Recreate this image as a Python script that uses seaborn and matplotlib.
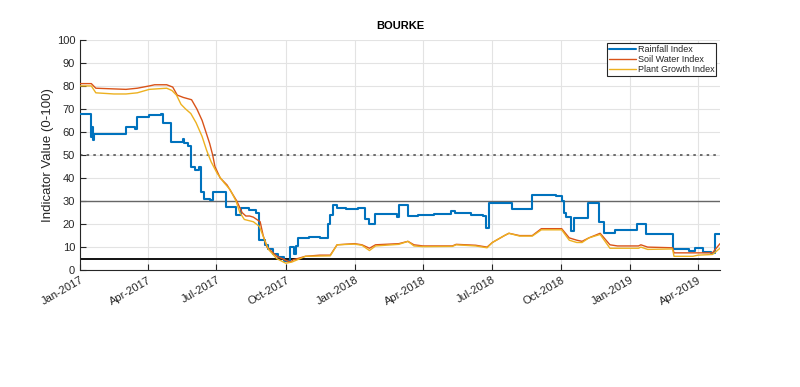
import pandas as pd
import matplotlib
matplotlib.use('Agg')
import matplotlib.pyplot as plt
import matplotlib.dates as mdates
import seaborn as sns

# Rainfall index (step changes)
rain_dates = ['2017-01-01', '2017-01-15', '2017-01-17', '2017-01-18', '2017-01-20', '2017-03-03',
              '2017-03-15', '2017-03-18', '2017-04-03', '2017-04-19', '2017-04-21', '2017-05-02',
              '2017-05-17', '2017-05-19', '2017-05-24', '2017-05-28', '2017-06-03', '2017-06-08',
              '2017-06-11', '2017-06-14', '2017-06-22', '2017-06-27', '2017-07-14', '2017-07-27',
              '2017-08-03', '2017-08-13', '2017-08-22', '2017-08-27', '2017-09-03', '2017-09-07',
              '2017-09-14', '2017-09-20', '2017-09-28', '2017-10-07', '2017-10-12', '2017-10-14',
              '2017-10-17', '2017-11-01', '2017-11-15', '2017-11-26', '2017-11-29', '2017-12-02',
              '2017-12-08', '2017-12-20', '2018-01-05', '2018-01-14', '2018-01-19', '2018-01-27',
              '2018-02-26', '2018-02-28', '2018-03-12', '2018-03-25', '2018-04-15', '2018-05-08',
              '2018-05-14', '2018-06-04', '2018-06-19', '2018-06-24', '2018-06-28', '2018-07-28',
              '2018-08-24', '2018-09-25', '2018-10-02', '2018-10-05', '2018-10-08', '2018-10-15',
              '2018-10-18', '2018-11-06', '2018-11-21', '2018-11-27', '2018-12-12', '2019-01-10',
              '2019-01-22', '2019-02-08', '2019-02-26', '2019-03-20', '2019-03-28', '2019-04-08',
              '2019-04-18', '2019-04-24', '2019-04-30']
rain_vals = [68, 58, 62, 56.5, 59, 62,
             61.5, 66.5, 67.5, 68, 64, 55.5,
             57, 55, 54, 45, 43.5, 45,
             34, 31, 30.5, 34, 27.5, 24,
             27, 26, 25, 13, 11, 9,
             7, 5.5, 4, 10, 7, 10.5,
             14, 14.5, 14, 20, 24, 28.5,
             27, 26.5, 27, 22, 20, 24.5,
             23, 28.5, 23.5, 24, 24.5, 25.5,
             25, 24, 23.5, 18.5, 29, 26.5,
             32.5, 32, 30, 25, 23, 17,
             22.5, 29, 21, 16, 17.5, 20,
             15.5, 15.5, 9, 8.5, 9.5, 8,
             7.5, 15.5, 15.5]

# Soil water index
soil_dates = ['2017-01-01', '2017-01-16', '2017-01-22', '2017-03-03', '2017-03-18', '2017-04-03',
              '2017-04-10', '2017-04-26', '2017-05-04', '2017-05-10', '2017-05-18', '2017-05-29',
              '2017-06-05', '2017-06-12', '2017-06-15', '2017-06-22', '2017-06-26', '2017-06-29',
              '2017-07-06', '2017-07-15', '2017-07-28', '2017-08-04', '2017-08-09', '2017-08-14',
              '2017-08-19', '2017-08-28', '2017-09-01', '2017-09-06', '2017-09-19', '2017-10-03',
              '2017-10-07', '2017-10-11', '2017-10-27', '2017-11-15', '2017-11-29', '2017-12-08',
              '2017-12-31', '2018-01-10', '2018-01-20', '2018-01-28', '2018-02-28', '2018-03-12',
              '2018-03-20', '2018-04-01', '2018-05-10', '2018-05-15', '2018-06-10', '2018-06-25',
              '2018-07-02', '2018-07-18', '2018-07-24', '2018-08-07', '2018-08-24', '2018-09-05',
              '2018-10-02', '2018-10-12', '2018-10-22', '2018-10-29', '2018-11-07', '2018-11-22',
              '2018-12-05', '2018-12-15', '2019-01-12', '2019-01-15', '2019-01-24', '2019-02-26',
              '2019-02-28', '2019-04-20', '2019-04-30']
soil_vals = [81, 81, 79, 78.5, 79, 80,
             80.5, 80.5, 79.5, 76, 75, 74,
             70, 65, 62, 55, 50, 45,
             40, 37, 30, 25, 23.5, 23.5,
             23, 21, 15, 10, 6, 4,
             3.5, 4.5, 6, 6.5, 6.5, 11,
             11.5, 11, 9.5, 11, 11.5, 12.5,
             11, 10.5, 10.5, 11.2, 10.8, 10,
             12, 15, 16, 15, 15, 18,
             18, 14, 13, 12.5, 14, 16,
             11, 10.5, 10.5, 11, 10, 9.7,
             7.5, 7.5, 11.5]

# Plant growth index
plant_dates = ['2017-01-01', '2017-01-16', '2017-01-22', '2017-02-15', '2017-03-03', '2017-03-18',
               '2017-04-03', '2017-04-26', '2017-05-03', '2017-05-09', '2017-05-15', '2017-05-21',
               '2017-05-28', '2017-06-04', '2017-06-12', '2017-06-18', '2017-06-24', '2017-07-02',
               '2017-07-11', '2017-07-19', '2017-07-27', '2017-08-01', '2017-08-07', '2017-08-19',
               '2017-08-27', '2017-09-03', '2017-09-08', '2017-09-19', '2017-10-01', '2017-10-09',
               '2017-10-20', '2017-10-27', '2017-11-29', '2017-12-08', '2017-12-31', '2018-01-10',
               '2018-01-20', '2018-01-28', '2018-02-28', '2018-03-12', '2018-03-20', '2018-04-01',
               '2018-05-10', '2018-05-15', '2018-06-10', '2018-06-25', '2018-07-02', '2018-07-18',
               '2018-07-24', '2018-08-07', '2018-08-24', '2018-09-05', '2018-10-02', '2018-10-12',
               '2018-10-22', '2018-10-29', '2018-11-07', '2018-11-22', '2018-12-05', '2019-01-12',
               '2019-01-15', '2019-01-24', '2019-02-26', '2019-02-28', '2019-03-25', '2019-04-01',
               '2019-04-20', '2019-04-30']
plant_vals = [80, 80, 77, 76.5, 76.5, 77,
              78.5, 79, 78, 76, 72, 70,
              68, 64, 58, 52, 47, 42,
              38, 35, 30, 25, 22, 21,
              19, 13, 9, 5, 3, 3.5,
              5, 6, 6.2, 11, 11.3, 10.8,
              8.5, 10.5, 11.2, 12.5, 10.5, 10.2,
              10.3, 11, 10.5, 9.7, 12, 15,
              16, 14.8, 14.8, 17.5, 17.5, 13,
              12, 12, 14, 15.5, 9.5, 9.5,
              10, 9, 9.2, 6, 6, 6.5,
              6.8, 9.5]

ref_levels = [50, 30, 5]

rain = pd.DataFrame({'date': pd.to_datetime(rain_dates), 'value': rain_vals})
soil = pd.DataFrame({'date': pd.to_datetime(soil_dates), 'value': soil_vals})
plant = pd.DataFrame({'date': pd.to_datetime(plant_dates), 'value': plant_vals})

sns.set_style('whitegrid')
plt.rcParams['font.family'] = ['Liberation Sans', 'DejaVu Sans']

fig = plt.figure(figsize=(8, 3.87), dpi=100)
ax = fig.add_axes([0.1, 0.302, 0.8, 0.595])

ax.axhline(ref_levels[0], color='#555555', lw=1.2, ls=(0, (1.5, 2.5)), zorder=1)
ax.axhline(ref_levels[1], color='#666666', lw=1.0, zorder=1)
ax.axhline(ref_levels[2], color='black', lw=1.3, zorder=1)

sns.lineplot(data=rain, x='date', y='value', ax=ax, color='#0072BD', lw=1.5,
             drawstyle='steps-post', label='Rainfall Index', zorder=3)
sns.lineplot(data=soil, x='date', y='value', ax=ax, color='#D95319', lw=1.0,
             label='Soil Water Index', zorder=3)
sns.lineplot(data=plant, x='date', y='value', ax=ax, color='#EDB120', lw=1.0,
             label='Plant Growth Index', zorder=3)

ax.set_xlim(pd.Timestamp('2017-01-01'), pd.Timestamp('2019-04-30'))
ax.set_ylim(0, 100)
ax.set_yticks(range(0, 101, 10))
ax.xaxis.set_major_locator(mdates.MonthLocator(bymonth=[1, 4, 7, 10]))
ax.xaxis.set_major_formatter(mdates.DateFormatter('%b-%Y'))

ax.grid(True, color='#e3e3e3', lw=0.8)
for s in ['top', 'right']:
    ax.spines[s].set_visible(False)
for s in ['left', 'bottom']:
    ax.spines[s].set_color('#262626')
    ax.spines[s].set_linewidth(0.8)
ax.tick_params(direction='in', length=4, width=0.8, colors='#262626', labelsize=8,
               left=True, bottom=True)
plt.setp(ax.get_xticklabels(), rotation=30, ha='right', rotation_mode='anchor')

ax.set_xlabel('')
ax.set_ylabel('Indicator Value (0-100)', fontsize=9.5, color='#262626', labelpad=2)
ax.set_title('BOURKE', fontsize=8, weight='bold', color='black', pad=8)

leg = ax.legend(loc='upper right', fontsize=6.5, handlelength=3.0, handletextpad=0.2,
                borderpad=0.2, labelspacing=0.1, fancybox=False, framealpha=1,
                borderaxespad=0.4)
leg.get_frame().set_edgecolor('#262626')
leg.get_frame().set_linewidth(0.8)

plt.savefig('out.png', dpi=100, facecolor='white')
